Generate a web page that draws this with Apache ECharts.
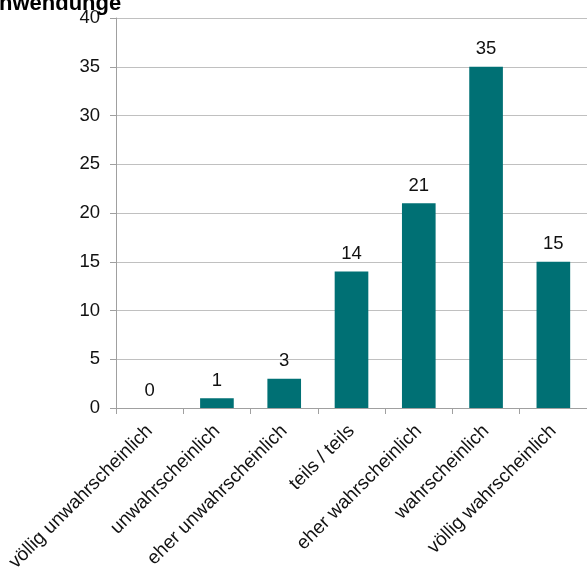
<!DOCTYPE html>
<html><head><meta charset="utf-8">
<script src="https://cdn.jsdelivr.net/npm/echarts@6/dist/echarts.min.js"></script>
<style>html,body{margin:0;padding:0;background:#fff}#c{width:587px;height:568px}</style>
</head><body><div id="c"></div>
<script>
const categories = ["völlig unwahrscheinlich","unwahrscheinlich","eher unwahrscheinlich","teils / teils","eher wahrscheinlich","wahrscheinlich","völlig wahrscheinlich"];
const values = [0,1,3,14,21,35,15];
const titleText = "nwendunge";
const F = 'Liberation Sans, Arial';
const chart = echarts.init(document.getElementById('c'), null, {renderer:'canvas'});
chart.setOption({
  animation:false,
  title:{text:titleText,left:-1,top:-7,padding:0,textStyle:{fontFamily:F,fontWeight:'bold',fontSize:22,color:'#000'}},
  grid:{left:116,right:0,top:18,bottom:160,containLabel:false,outerBoundsMode:'none'},
  xAxis:{type:'category',data:categories,
    axisLine:{lineStyle:{color:'#a0a0a0'}},
    axisTick:{show:true,length:6,lineStyle:{color:'#a0a0a0'}},
    axisLabel:{rotate:45,interval:0,margin:20,fontFamily:F,fontSize:19,color:'#111'}},
  yAxis:{type:'value',min:0,max:40,interval:5,
    axisLine:{show:true,lineStyle:{color:'#a0a0a0'}},
    axisTick:{show:true,length:6,lineStyle:{color:'#a0a0a0'}},
    splitLine:{lineStyle:{color:'#c0c0c0'}},
    axisLabel:{margin:16,fontFamily:F,fontSize:18.5,color:'#111'}},
  series:[{type:'bar',data:values,barWidth:'50%',
    itemStyle:{color:'#007074'},
    label:{show:true,position:'top',distance:8,fontFamily:F,fontSize:18.5,color:'#111'}}]
});
</script></body></html>
